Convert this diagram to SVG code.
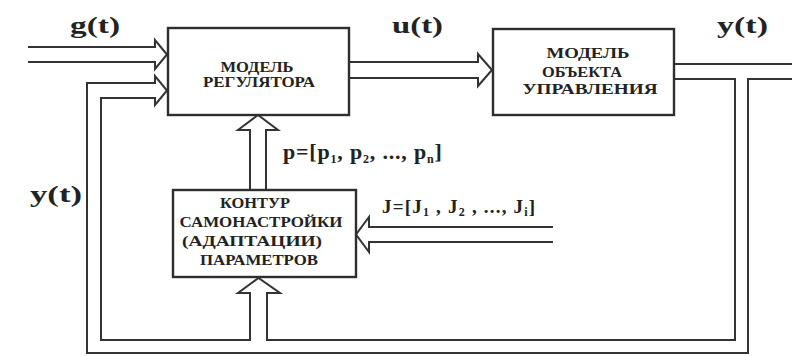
<svg xmlns="http://www.w3.org/2000/svg" width="792" height="356" viewBox="0 0 792 356">
  <style>
    .box { fill: none; stroke: #2e2e2e; stroke-width: 2.4; }
    .wire { fill: none; stroke: #333; stroke-width: 2; stroke-linejoin: miter; }
    .lbl { font-family: "Liberation Serif", "DejaVu Serif", serif; font-weight: bold; fill: #222; }
    .sig { font-size: 24px; }
    .blk { font-size: 14px; text-anchor: middle; }
    .vec { font-size: 22px; letter-spacing: 0.8px; }
    .crit { font-size: 19px; letter-spacing: 1.2px; }
    .sub { font-size: 12px; }
  </style>
  <rect width="792" height="356" fill="#ffffff"/>

  <!-- double-line (hollow) signal buses -->
  <g id="connectors">
    <!-- g(t) input into the controller model -->
    <path class="wire" d="M28,47 H155 V40 L167,54.5 L155,69 V62 H28"/>
    <!-- u(t): controller model to plant model -->
    <path class="wire" d="M349,62 H478 V54 L492,70 L478,86 V78 H349"/>
    <!-- y(t) output, upper rail -->
    <path class="wire" d="M674,64 H792"/>
    <!-- y(t) feedback loop: to the controller and to the adaptation loop -->
    <path class="wire" d="M792,79 H748 V353 H87 V83 H155 V76 L167,90.5 L155,105 V98 H101 V340 H250 V293 H238 L258.5,278 L280,293 H267 V340 H735 V79 H674"/>
    <!-- parameter vector p up into the controller model -->
    <path class="wire" d="M250,190 V130 H238 L258,115 L278,130 H266 V190"/>
    <!-- criteria vector J into the adaptation loop -->
    <path class="wire" d="M553,227 H369 V217 L356,234.5 L369,252 V242 H553"/>
  </g>

  <g id="controller">
    <rect class="box" x="168" y="28" width="181" height="87"/>
    <text class="lbl blk" x="257" y="72" textLength="73" lengthAdjust="spacingAndGlyphs">МОДЕЛЬ</text>
    <text class="lbl blk" x="259" y="86.5" textLength="112" lengthAdjust="spacingAndGlyphs">РЕГУЛЯТОРА</text>
  </g>

  <g id="plant">
    <rect class="box" x="493" y="29" width="181" height="86"/>
    <text class="lbl blk" x="588" y="58" textLength="83" lengthAdjust="spacingAndGlyphs">МОДЕЛЬ</text>
    <text class="lbl blk" x="582" y="76.5" textLength="80" lengthAdjust="spacingAndGlyphs">ОБЪЕКТА</text>
    <text class="lbl blk" x="590" y="94" textLength="135" lengthAdjust="spacingAndGlyphs">УПРАВЛЕНИЯ</text>
  </g>

  <g id="adaptation">
    <rect class="box" x="173" y="190" width="183" height="87"/>
    <text class="lbl blk" x="255" y="208" textLength="70" lengthAdjust="spacingAndGlyphs">КОНТУР</text>
    <text class="lbl blk" x="261" y="227" textLength="163" lengthAdjust="spacingAndGlyphs">САМОНАСТРОЙКИ</text>
    <text class="lbl blk" x="252" y="245.5" textLength="140" lengthAdjust="spacingAndGlyphs">(АДАПТАЦИИ)</text>
    <text class="lbl blk" x="259" y="265" textLength="118" lengthAdjust="spacingAndGlyphs">ПАРАМЕТРОВ</text>
  </g>

  <!-- signal labels -->
  <g id="labels">
    <text class="lbl sig" x="70" y="33" textLength="50" lengthAdjust="spacingAndGlyphs">g(t)</text>
    <text class="lbl sig" x="392" y="33" textLength="51" lengthAdjust="spacingAndGlyphs">u(t)</text>
    <text class="lbl sig" x="717" y="33" textLength="51" lengthAdjust="spacingAndGlyphs">y(t)</text>
    <text class="lbl sig" x="30" y="202" textLength="52" lengthAdjust="spacingAndGlyphs">y(t)</text>
    <text class="lbl vec" x="283" y="159">p=[p<tspan class="sub" dy="4">1</tspan><tspan dy="-4">, p</tspan><tspan class="sub" dy="4">2</tspan><tspan dy="-4">, ..., p</tspan><tspan class="sub" dy="4">n</tspan><tspan dy="-4">]</tspan></text>
    <text class="lbl crit" x="382" y="213">J=[J<tspan class="sub" dy="3">1</tspan><tspan dy="-3"> , J</tspan><tspan class="sub" dy="3">2</tspan><tspan dy="-3"> , ..., J</tspan><tspan class="sub" dy="3">i</tspan><tspan dy="-3">]</tspan></text>
  </g>
</svg>
